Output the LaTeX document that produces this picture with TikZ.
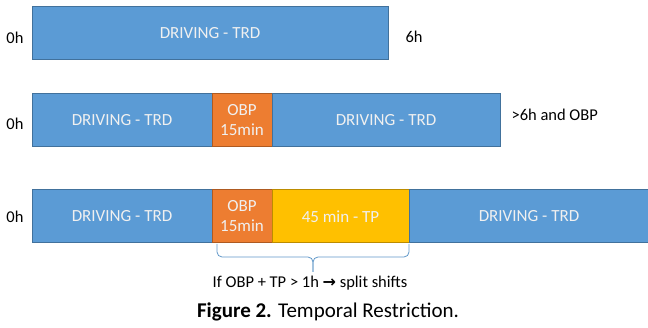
\documentclass[tikz,border=0pt]{standalone}
\usepackage{fontspec}
\setmainfont{Carlito}
\newfontfamily\symfont{DejaVu Sans}
\usetikzlibrary{positioning}

\definecolor{drvblue}{HTML}{5B9BD5}
\definecolor{drvedge}{HTML}{41719C}
\definecolor{obporange}{HTML}{ED7D31}
\definecolor{obpedge}{HTML}{AE5A21}
\definecolor{tpyellow}{HTML}{FFC000}
\definecolor{tpedge}{HTML}{BC8C00}

\begin{document}
\begin{tikzpicture}[
        seg/.style={draw, rectangle, line width=1pt, minimum height=53pt, inner sep=0pt, outer sep=0pt, anchor=north west, align=center, text=white!94!black, font=\fontsize{17}{20}\selectfont},
        drive/.style={seg, fill=drvblue, draw=drvedge},
        obp/.style={seg, fill=obporange, draw=obpedge, minimum width=60pt},
        tp/.style={seg, fill=tpyellow, draw=tpedge},
        hour/.style={font=\fontsize{16.5}{19}\selectfont},
        bracket/.style={draw=drvblue!85!gray, line width=0.8pt, rounded corners=5pt}
    ]
        \useasboundingbox (0,0) rectangle (648pt,-328pt);

        % Row 1: 6h of driving
        \node[drive, minimum width=356pt] (d1) at (32pt,-7pt) {DRIVING - TRD};
        \node[hour] (z1) at (15pt,-38pt) {0h};
        \node[hour, anchor=west] (l1) at (402pt,-37pt) {6h};

        % Row 2: break after 6h
        \node[drive, minimum width=180pt] (d2a) at (32pt,-94pt) {DRIVING - TRD};
        \node[obp, anchor=west, right=0pt of d2a] (o2) {OBP\\15min};
        \node[drive, anchor=west, minimum width=228pt, right=0pt of o2] (d2b) {DRIVING - TRD};
        \node[hour] (z2) at (15pt,-124pt) {0h};
        \node[hour, anchor=west] (l2) at (508pt,-115pt) {>6h and OBP};

        % Row 3: break plus TP
        \node[drive, minimum width=180pt] (d3a) at (32pt,-190pt) {DRIVING - TRD};
        \node[obp, anchor=west, right=0pt of d3a] (o3) {OBP\\15min};
        \node[tp, anchor=west, minimum width=137pt, right=0pt of o3] (t3) {45 min - TP};
        \node[drive, anchor=west, minimum width=240pt, right=0pt of t3] (d3b) {DRIVING - TRD};
        \node[hour] (z3) at (15pt,-217pt) {0h};

        % Brace under OBP + TP
        \coordinate (bl) at ([xshift=5pt,yshift=-1pt]o3.south west);
        \coordinate (br) at ([yshift=-1pt]t3.south east);
        \path (bl) -- coordinate[pos=0.5] (bm) (br);
        \draw[bracket] (bl) |- ([yshift=-13pt]bm) -- ([yshift=-28pt]bm);
        \draw[bracket] (br) |- ([yshift=-13pt]bm) -- ([yshift=-28pt]bm);
        \node[hour] (rule) at (310pt,-283pt) {If OBP + TP > 1h {\symfont\bfseries\fontsize{16}{18}\selectfont →} split shifts};

        % Caption
        \node[font=\fontsize{21}{24}\selectfont] (cap) at (328pt,-312pt) {\textbf{Figure 2.} Temporal Restriction.};
    \end{tikzpicture}
\end{document}
